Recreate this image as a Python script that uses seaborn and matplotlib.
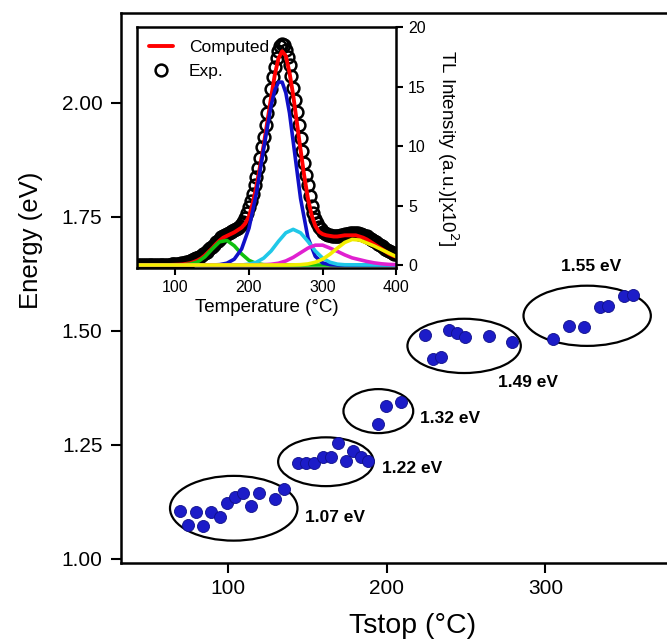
import matplotlib
matplotlib.use("Agg")
import matplotlib.pyplot as plt
from matplotlib.patches import Ellipse
import seaborn as sns

# main panel: activation energy vs Tstop
tstop = [69.3, 74.6, 79.4, 84.0, 89.3, 94.6, 99.4, 104.0, 109.5, 114.1, 119.4, 129.5, 134.8,
         144.0, 148.8, 154.1, 159.4, 164.6, 169.2, 174.5, 178.9, 183.5, 188.1,
         194.5, 199.7, 208.8,
         224.1, 238.9, 244.1, 249.3, 264.5, 279.2, 229.2, 234.4,
         304.5, 314.6, 324.4, 334.3, 339.6, 349.7, 355.0]
energy = [1.105, 1.075, 1.102, 1.072, 1.102, 1.091, 1.122, 1.135, 1.145, 1.116, 1.145, 1.132, 1.153,
          1.210, 1.210, 1.210, 1.223, 1.223, 1.255, 1.215, 1.237, 1.224, 1.215,
          1.295, 1.336, 1.345,
          1.490, 1.501, 1.496, 1.486, 1.488, 1.475, 1.438, 1.442,
          1.482, 1.511, 1.509, 1.552, 1.555, 1.577, 1.579]

# groups (ellipse centre / size) and their labels
grp_x = [103.4, 161.5, 194.6, 248.7, 326.3]
grp_y = [1.111, 1.213, 1.324, 1.467, 1.533]
grp_w = [80.4, 60.2, 44.0, 71.5, 80.3]
grp_h = [0.142, 0.107, 0.0965, 0.119, 0.132]
grp_lbl = ["1.07 eV", "1.22 eV", "1.32 eV", "1.49 eV", "1.55 eV"]
lbl_x = [148.2, 197.2, 221.0, 270.2, 309.7]
lbl_y = [1.090, 1.199, 1.307, 1.387, 1.641]

# inset: glow curve
exp_t = [50, 52.5, 55, 57.5, 60, 62.5, 65, 67.5, 70, 72.5, 75, 77.5, 80, 82.5, 85, 87.5, 90, 92.5,
         95, 97.5, 100, 102.5, 105, 107.5, 110, 112.5, 115, 117.5, 120, 122.5, 125, 127.5, 130,
         132.5, 135, 137.5, 140, 142.5, 145, 147.5, 150, 152.5, 155, 157.5, 160, 162.5, 165,
         167.5, 170, 172.5, 175, 177.5,
         180, 182.5, 185, 187.5, 190, 192.5, 195, 197.5, 200, 202.5, 205, 207.5, 210, 212.5,
         215, 217.5, 220, 222.5, 225, 227.5, 230, 232.5, 235, 237.5, 240, 242.5, 245, 247.5,
         250, 252.5, 255, 257.5, 260, 262.5, 265, 267.5, 270, 272.5, 275, 277.5, 280, 282.5,
         285, 287.5, 290, 292.5, 295, 297.5, 300, 302.5, 305, 307.5, 310,
         312.5, 315, 317.5, 320, 322.5, 325, 327.5, 330, 332.5, 335, 337.5, 340, 342.5, 345,
         347.5, 350, 352.5, 355, 357.5, 360, 362.5, 365, 367.5, 370, 372.5, 375, 377.5, 380,
         382.5, 385, 387.5, 390, 392.5, 395, 397.5, 400]
exp_i = [0, 0, 0, 0, 0, 0, 0, 0, 0, 0, 0, 0, 0.01, 0.01, 0.02, 0.02, 0.03, 0.04,
         0.05, 0.06, 0.08, 0.09, 0.11, 0.13, 0.15, 0.19, 0.24, 0.29, 0.35, 0.41, 0.48, 0.55, 0.62,
         0.71, 0.8, 0.9, 1.0, 1.12, 1.25, 1.4, 1.55, 1.72, 1.9, 2.05, 2.2, 2.33, 2.45,
         2.53, 2.6, 2.68, 2.75, 2.85,
         2.95, 3.05, 3.15, 3.3, 3.45, 3.65, 3.95, 4.35, 4.85, 5.4, 6.0, 6.7, 7.4, 8.2,
         9.0, 9.9, 10.8, 11.8, 12.8, 13.8, 14.8, 15.8, 16.7, 17.4, 18.0, 18.4, 18.6, 18.5,
         18.1, 17.5, 16.8, 15.9, 14.9, 13.9, 12.9, 11.8, 10.7, 9.6, 8.6, 7.6, 6.7, 5.8,
         5.0, 4.4, 3.9, 3.5, 3.2, 3.0, 2.8, 2.7, 2.6, 2.55, 2.5,
         2.47, 2.45, 2.45, 2.45, 2.47, 2.5, 2.55, 2.6, 2.63, 2.65, 2.68, 2.7, 2.7, 2.7,
         2.68, 2.65, 2.6, 2.55, 2.48, 2.4, 2.3, 2.2, 2.1, 2.0, 1.9, 1.8, 1.7, 1.6,
         1.48, 1.35, 1.25, 1.15, 1.07, 1.0, 0.95, 0.9]

fit_t = [50, 60, 70, 80, 90, 100, 105, 110, 115, 120, 125, 130, 135, 140, 145, 150, 155, 160, 165, 170,
         175, 180, 185, 190, 195, 200, 205, 210, 215, 220, 225, 230, 235, 240, 245, 250, 255,
         260, 265, 270, 275, 280, 285, 290, 295, 300, 305, 310, 315, 320, 325, 330, 335, 340,
         345, 350, 355, 360, 365, 370, 375, 380, 385, 390, 395, 400]
fit_i = [0, 0, 0, 0, 0, 0.02, 0.03, 0.05, 0.1, 0.15, 0.25, 0.38, 0.55, 0.8, 1.1, 1.4, 1.75, 2.05, 2.3, 2.45,
         2.6, 2.75, 2.95, 3.15, 3.5, 4.1, 5.2, 6.6, 8.3, 10.1, 12.1, 14.1, 16.0, 17.4, 18.0, 17.6, 16.2,
         14.3, 12.0, 9.7, 7.5, 5.6, 4.2, 3.3, 2.8, 2.6, 2.5, 2.45, 2.4, 2.4, 2.45, 2.5, 2.5, 2.5,
         2.5, 2.4, 2.3, 2.15, 1.95, 1.75, 1.55, 1.35, 1.15, 0.95, 0.8, 0.7]

# deconvoluted peaks
green_t = [50, 100, 110, 120, 130, 140, 150, 160, 170, 180, 190, 200, 210, 220, 230, 400]
green_i = [0, 0, 0.01, 0.07, 0.25, 0.68, 1.34, 1.95, 2.07, 1.62, 0.93, 0.39, 0.12, 0.03, 0, 0]
blue_t = [50, 150, 160, 170, 180, 190, 200, 210, 220, 230, 235, 240, 245, 250, 255, 260, 270,
          280, 290, 300, 310, 320, 400]
blue_i = [0, 0, 0.03, 0.15, 0.49, 1.35, 3.1, 6.0, 9.8, 13.4, 14.7, 15.4, 15.4, 14.5, 12.8, 10.4, 5.6,
          2.3, 0.73, 0.17, 0.03, 0, 0]
cyan_t = [50, 190, 200, 210, 220, 230, 240, 250, 260, 270, 280, 290, 300, 310, 320, 330, 400]
cyan_i = [0, 0, 0.07, 0.23, 0.58, 1.18, 1.99, 2.71, 3.0, 2.71, 1.99, 1.18, 0.58, 0.23, 0.07, 0.02, 0]
mag_t = [50, 210, 220, 230, 240, 250, 260, 270, 280, 290, 300, 310, 320, 330, 340, 350, 360,
         370, 380, 390, 400]
mag_i = [0, 0, 0.02, 0.06, 0.15, 0.34, 0.64, 1.03, 1.42, 1.67, 1.67, 1.42, 1.15, 0.85, 0.6, 0.45, 0.3,
         0.18, 0.1, 0.05, 0.03]
yel_t = [50, 250, 260, 270, 280, 290, 300, 310, 320, 330, 340, 350, 360, 370, 380, 390, 400]
yel_i = [0, 0, 0.01, 0.03, 0.09, 0.23, 0.49, 0.91, 1.42, 1.9, 2.15, 2.1, 1.85, 1.6, 1.3, 1.0, 0.7]

sns.set_style("ticks")
plt.rcParams['font.family'] = ['Liberation Sans', 'DejaVu Sans']
plt.rcParams['text.color'] = 'black'
plt.rcParams['axes.labelcolor'] = 'black'
plt.rcParams['xtick.color'] = 'black'
plt.rcParams['ytick.color'] = 'black'

fig = plt.figure(figsize=(6.67, 6.42), dpi=100)
ax = fig.add_axes([0.1807, 0.1238, 0.8748, 0.8567])

for cx, cy, w, h in zip(grp_x, grp_y, grp_w, grp_h):
    ax.add_patch(Ellipse((cx, cy), w, h, fill=False, edgecolor='black', lw=1.6, zorder=1))

sns.scatterplot(x=tstop, y=energy, ax=ax, color='#1c1cc8', s=75, edgecolor='#10108a',
                linewidth=0.6, zorder=3)

for x, y, t in zip(lbl_x, lbl_y, grp_lbl):
    ax.text(x, y, t, fontsize=12.5, fontweight='bold', ha='left', va='center')

ax.set_xlim(32, 400)
ax.set_ylim(0.992, 2.198)
ax.set_xticks([100, 200, 300])
ax.set_yticks([1.00, 1.25, 1.50, 1.75, 2.00])
ax.set_yticklabels(["1.00", "1.25", "1.50", "1.75", "2.00"])
ax.set_xlabel("Tstop (°C)", fontsize=20.5, labelpad=11)
ax.set_ylabel("Energy (eV)", fontsize=18.5)
ax.yaxis.set_label_coords(-0.133, 0.585)
ax.tick_params(labelsize=15, width=1.5, length=7, direction='out')
ax.tick_params(axis='y', pad=6)
ax.tick_params(axis='x', pad=5)
for sp in ax.spines.values():
    sp.set_linewidth(1.8)
    sp.set_color('black')

# inset
ins = fig.add_axes([0.2054, 0.5826, 0.3888, 0.3746])
ins.set_facecolor('white')
sns.lineplot(x=exp_t, y=exp_i, ax=ins, marker='o', linestyle='', markersize=8.5,
             markerfacecolor='none', markeredgecolor='black', markeredgewidth=1.8,
             color='black', label='Exp.')
sns.lineplot(x=fit_t, y=fit_i, ax=ins, color='#ff0000', lw=2.8, label='Computed')
sns.lineplot(x=green_t, y=green_i, ax=ins, color='#10c010', lw=2.6, legend=False)
sns.lineplot(x=blue_t, y=blue_i, ax=ins, color='#1010c8', lw=2.6, legend=False)
sns.lineplot(x=cyan_t, y=cyan_i, ax=ins, color='#20c8e8', lw=2.6, legend=False)
sns.lineplot(x=mag_t, y=mag_i, ax=ins, color='#e020d0', lw=2.6, legend=False)
sns.lineplot(x=yel_t, y=yel_i, ax=ins, color='#f2ee00', lw=2.6, legend=False)

h, l = ins.get_legend_handles_labels()
ins.legend([h[1], h[0]], [l[1], l[0]], loc='upper left', frameon=False, fontsize=12.5,
           handlelength=1.4, handletextpad=0.9, borderaxespad=0.3, labelspacing=0.55)

ins.set_xlim(48, 400)
ins.set_ylim(-0.25, 20)
ins.set_xticks([100, 200, 300, 400])
ins.set_yticks([0, 5, 10, 15, 20])
ins.yaxis.tick_right()
ins.yaxis.set_label_position('right')
ins.set_xlabel("Temperature (°C)", fontsize=13.5, labelpad=3)
ins.set_ylabel("TL Intensity (a.u.)[x10$^2$]", fontsize=13.5, rotation=270, labelpad=25)
ins.tick_params(labelsize=11.5, width=1.5, length=5, direction='out')
for sp in ins.spines.values():
    sp.set_linewidth(1.8)
    sp.set_color('black')
    sp.set_visible(True)

fig.savefig("out.png", dpi=100)
